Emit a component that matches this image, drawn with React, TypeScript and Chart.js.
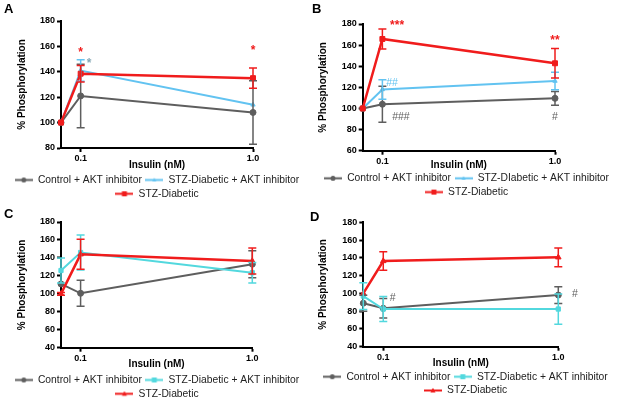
import React, { useEffect, useRef } from 'react';
import { Chart, registerables } from 'chart.js';

Chart.register(...registerables);

const FONT = '"Liberation Sans", Arial, Helvetica, sans-serif';

// ---------- data ----------
const insulinDoses = [0, 0.1, 1.0]; // nM ; 0 is plotted at the start of the log axis
const X_AXIS_START = 0.0769;
const X_AXIS_END = 1.0;
const xTickValues = [0.1, 1.0];
const xTickLabels = ['0.1', '1.0'];

const namesAB = ['Control + AKT inhibitor', 'STZ-Diabetic + AKT inhibitor', 'STZ-Diabetic'];
const namesB = ['Control + AKT inhibitor', 'STZ-DIabetic + AKT inhibitor', 'STZ-Diabetic'];

// Panel A
const aControl = [100, 121, 108];
const aControlErr = [0, 25, 25];
const aStzAkt = [100, 141, 114];
const aStzAktErr = [0, 8.5, 0];
const aStz = [100, 138.5, 135];
const aStzErr = [0, 6.5, 8];

// Panel B
const bControl = [100, 104, 109.6];
const bControlErr = [0, 17, 6.5];
const bStzAkt = [100, 118, 126];
const bStzAktErr = [0, 9.3, 8.3];
const bStz = [100, 165.8, 142.8];
const bStzErr = [0, 9.5, 14];

// Panel C
const cControl = [111, 100.6, 133];
const cControlErr = [0, 14.5, 15];
const cStzAkt = [126, 146, 123.5];
const cStzAktErr = [14, 19.5, 11.5];
const cStz = [100, 144, 136.5];
const cStzErr = [1.5, 16.7, 14.5];

// Panel D
const dControl = [89, 83.2, 98.1];
const dControlErr = [9, 11, 9.5];
const dStzAkt = [97, 82.4, 82.4];
const dStzAktErr = [15, 14, 17];
const dStz = [100, 136.4, 140.6];
const dStzErr = [0, 10.5, 10.5];

// significance marks: text, insulin x, % y, series index (colour)
const aMarks = [
  { text: '*', x: 0.1, y: 155, s: 2 },
  { text: '*', x: 1.0, y: 157, s: 2 },
  { text: '*', x: 0.112, y: 146, s: 3 },
];
const bMarks = [
  { text: '***', x: 0.1217, y: 178, s: 2 },
  { text: '**', x: 1.0, y: 164, s: 2 },
  { text: '##', x: 0.1138, y: 124, s: 1 },
  { text: '###', x: 0.128, y: 92, s: 0 },
  { text: '#', x: 1.0, y: 92, s: 0 },
];
const cMarks: any[] = [];
const dMarks = [
  { text: '#', x: 0.1132, y: 94.4, s: 0 },
  { text: '#', x: 1.245, y: 99, s: 0 },
];

// ---------- styles ----------
const GRAY = '#5e5e5e';
const SKY = '#62c3f1';
const CYAN = '#52d8de';
const RED = '#f01c1c';
const STAR_GRAYBLUE = '#86a9b6';

function makeIcon(color: string, style: string, r: number) {
  const c = document.createElement('canvas');
  c.width = 18;
  c.height = 9;
  const g = c.getContext('2d')!;
  g.strokeStyle = color;
  g.fillStyle = color;
  g.lineWidth = 2;
  g.beginPath();
  g.moveTo(0, 4.5);
  g.lineTo(18, 4.5);
  g.stroke();
  g.beginPath();
  if (style === 'circle') {
    g.arc(9, 4.5, r, 0, Math.PI * 2);
  } else if (style === 'rect') {
    g.rect(9 - r, 4.5 - r, 2 * r, 2 * r);
  } else {
    g.moveTo(9, 4.5 - r * 1.1);
    g.lineTo(9 + r, 4.5 + r * 0.8);
    g.lineTo(9 - r, 4.5 + r * 0.8);
    g.closePath();
  }
  g.fill();
  return c;
}

const errorBarPlugin = {
  id: 'errorBars',
  afterDatasetsDraw(chart: any) {
    const { ctx } = chart;
    const yScale = chart.scales.y;
    chart.data.datasets.forEach((ds: any, di: number) => {
      const errs = ds.errorBars;
      if (!errs) return;
      const meta = chart.getDatasetMeta(di);
      ctx.save();
      ctx.strokeStyle = ds.borderColor;
      ctx.lineWidth = 1.5;
      meta.data.forEach((pt: any, i: number) => {
        const e = errs[i];
        if (!e) return;
        const v = ds.data[i].y;
        const yt = yScale.getPixelForValue(v + e);
        const yb = yScale.getPixelForValue(v - e);
        ctx.beginPath();
        ctx.moveTo(pt.x, yt);
        ctx.lineTo(pt.x, yb);
        ctx.moveTo(pt.x - 4, yt);
        ctx.lineTo(pt.x + 4, yt);
        ctx.moveTo(pt.x - 4, yb);
        ctx.lineTo(pt.x + 4, yb);
        ctx.stroke();
      });
      ctx.restore();
    });
  },
};

const marksPlugin = {
  id: 'sigMarks',
  afterDraw(chart: any) {
    const marks = chart.options.plugins.sigMarks?.marks || [];
    const colors = chart.options.plugins.sigMarks?.colors || [];
    const { ctx } = chart;
    ctx.save();
    ctx.textAlign = 'center';
    ctx.textBaseline = 'middle';
    marks.forEach((m: any) => {
      const px = chart.scales.x.getPixelForValue(m.x);
      const py = chart.scales.y.getPixelForValue(m.y);
      ctx.fillStyle = colors[m.s];
      ctx.font = m.text.includes('*') ? `bold 12px ${FONT}` : `10.5px ${FONT}`;
      ctx.fillText(m.text, px, py);
    });
    ctx.restore();
  },
};

type Cfg = {
  left: number; top: number; W: number; H: number;
  letter: string;
  padLeft: number; yw: number; rightW: number;
  letterPadTop: number; letterPadBottom: number;
  xh: number; xTitlePad: number; yTitlePad: number; padBottom: number;
  yMin: number; yMax: number;
  names: string[];
  series: number[][]; errs: number[][];
  colors: string[]; styles: string[]; radii: number[]; widths: number[];
  marks: any[];
};

const panels: Cfg[] = [
  {
    left: 0, top: 0, W: 310, H: 210, letter: 'A',
    padLeft: 4, yw: 57, rightW: 57,
    letterPadTop: 1.2, letterPadBottom: 4.2,
    xh: 23.35, xTitlePad: 0.3, yTitlePad: 12.5, padBottom: 1.05,
    yMin: 80, yMax: 180,
    names: namesAB,
    series: [aControl, aStzAkt, aStz], errs: [aControlErr, aStzAktErr, aStzErr],
    colors: [GRAY, SKY, RED], styles: ['circle', 'triangle', 'rect'], radii: [3, 2.5, 3.5], widths: [2, 2, 2.5],
    marks: aMarks,
  },
  {
    left: 310, top: 0, W: 311, H: 210, letter: 'B',
    padLeft: 2, yw: 50.7, rightW: 66,
    letterPadTop: 1.2, letterPadBottom: 7.2,
    xh: 18.95, xTitlePad: -2.05, yTitlePad: 5, padBottom: 2.75,
    yMin: 60, yMax: 180,
    names: namesB,
    series: [bControl, bStzAkt, bStz], errs: [bControlErr, bStzAktErr, bStzErr],
    colors: [GRAY, SKY, RED], styles: ['circle', 'triangle', 'rect'], radii: [3, 2.5, 3.5], widths: [2, 2, 2.5],
    marks: bMarks,
  },
  {
    left: 0, top: 200, W: 310, H: 210, letter: 'C',
    padLeft: 4, yw: 57, rightW: 57.7,
    letterPadTop: 6.2, letterPadBottom: 0.2,
    xh: 23.65, xTitlePad: 1.15, yTitlePad: 12.2, padBottom: 1.05,
    yMin: 40, yMax: 180,
    names: namesAB,
    series: [cControl, cStzAkt, cStz], errs: [cControlErr, cStzAktErr, cStzErr],
    colors: [GRAY, CYAN, RED], styles: ['circle', 'rect', 'triangle'], radii: [3, 3, 3.2], widths: [2, 2, 2.5],
    marks: cMarks,
  },
  {
    left: 310, top: 200, W: 311, H: 210, letter: 'D',
    padLeft: 0, yw: 53.3, rightW: 62.7,
    letterPadTop: 9.2, letterPadBottom: -2.5,
    xh: 21.35, xTitlePad: -1.25, yTitlePad: 7.7, padBottom: 4.35,
    yMin: 40, yMax: 180,
    names: namesAB,
    series: [dControl, dStzAkt, dStz], errs: [dControlErr, dStzAktErr, dStzErr],
    colors: [GRAY, CYAN, RED], styles: ['circle', 'rect', 'triangle'], radii: [3, 3, 3.2], widths: [2, 2, 2.5],
    marks: dMarks,
  },
];

function Panel({ cfg }: { cfg: Cfg }) {
  const ref = useRef<HTMLCanvasElement | null>(null);
  useEffect(() => {
    if (!ref.current) return;
    const drawOrder = [2, 1, 0];
    const datasets = cfg.series.map((vals, si) => ({
      label: cfg.names[si],
      data: insulinDoses.map((d, i) => ({ x: d === 0 ? X_AXIS_START : d, y: vals[i] })),
      errorBars: cfg.errs[si],
      borderColor: cfg.colors[si],
      backgroundColor: cfg.colors[si],
      borderWidth: cfg.widths[si],
      pointStyle: cfg.styles[si],
      pointRadius: cfg.radii[si],
      pointBorderWidth: 1,
      pointBackgroundColor: cfg.colors[si],
      pointBorderColor: cfg.colors[si],
      tension: 0,
      clip: false,
      order: drawOrder[si],
    }));
    const icons = cfg.series.map((_, si) => makeIcon(cfg.colors[si], cfg.styles[si], si === 1 && cfg.styles[si] === 'triangle' ? 2 : 2.5));
    const markColors = [cfg.colors[0], cfg.colors[1], cfg.colors[2], STAR_GRAYBLUE];
    const chart = new Chart(ref.current, {
      type: 'line',
      data: { datasets } as any,
      plugins: [errorBarPlugin, marksPlugin],
      options: {
        animation: false,
        responsive: false,
        devicePixelRatio: 1,
        layout: { padding: { left: cfg.padLeft, right: 0, top: 0, bottom: cfg.padBottom } },
        plugins: {
          tooltip: { enabled: false },
          title: {
            display: true,
            text: cfg.letter,
            align: 'start',
            color: '#000',
            font: { family: FONT, size: 13, weight: 'bold', lineHeight: 1.2 },
            padding: { top: cfg.letterPadTop, bottom: cfg.letterPadBottom },
          },
          legend: {
            position: 'bottom',
            labels: {
              usePointStyle: true,
              pointStyleWidth: 18,
              padding: 3.5,
              color: '#222',
              font: { family: FONT, size: 10.3 },
              generateLabels: (ch: any) =>
                ch.data.datasets.map((ds: any, i: number) => ({
                  text: ds.label,
                  pointStyle: icons[i],
                  fillStyle: ds.borderColor,
                  strokeStyle: ds.borderColor,
                  lineWidth: 0,
                  fontColor: '#222',
                  hidden: false,
                  datasetIndex: i,
                })),
            },
          },
          sigMarks: { marks: cfg.marks, colors: markColors },
        } as any,
        scales: {
          x: {
            type: 'logarithmic',
            min: X_AXIS_START,
            max: X_AXIS_END,
            afterBuildTicks: (s: any) => {
              s.ticks = xTickValues.map((v) => ({ value: v }));
            },
            afterFit: (s: any) => {
              s.height = cfg.xh;
            },
            grid: { display: true, drawOnChartArea: false, drawTicks: true, tickLength: 4, tickWidth: 2, tickColor: '#000' },
            border: { display: true, color: '#000', width: 2 },
            ticks: {
              color: '#000',
              font: { family: FONT, size: 9, weight: 'bold' },
              padding: 1.3,
              maxRotation: 0,
              autoSkip: false,
              callback: (_v: any, i: number) => xTickLabels[i],
            },
            title: {
              display: true,
              text: 'Insulin (nM)',
              color: '#000',
              font: { family: FONT, size: 10, weight: 'bold', lineHeight: 1.2 },
              padding: { top: 0, bottom: cfg.xTitlePad },
            },
          },
          y: {
            type: 'linear',
            position: 'left',
            min: cfg.yMin,
            max: cfg.yMax,
            afterFit: (s: any) => {
              s.width = cfg.yw;
            },
            grid: { display: true, drawOnChartArea: false, drawTicks: true, tickLength: 4, tickWidth: 2, tickColor: '#000' },
            border: { display: true, color: '#000', width: 2 },
            ticks: {
              stepSize: 20,
              color: '#000',
              font: { family: FONT, size: 9, weight: 'bold' },
              padding: 2,
            },
            title: {
              display: true,
              text: '% Phosphorylation',
              color: '#000',
              font: { family: FONT, size: 10, weight: 'bold', lineHeight: 1.2 },
              padding: { top: cfg.yTitlePad, bottom: 0 },
            },
          },
          yR: {
            type: 'linear',
            position: 'right',
            display: true,
            min: 0,
            max: 1,
            afterFit: (s: any) => {
              s.width = cfg.rightW;
            },
            ticks: { display: false },
            grid: { display: false },
            border: { display: false },
          },
        } as any,
      } as any,
    });
    return () => chart.destroy();
  }, [cfg]);
  return (
    <div style={{ position: 'absolute', left: cfg.left, top: cfg.top, width: cfg.W, height: cfg.H }}>
      <canvas ref={ref} width={cfg.W} height={cfg.H} style={{ width: cfg.W, height: cfg.H, display: 'block' }} />
    </div>
  );
}

export default function App() {
  return (
    <div
      style={{
        position: 'absolute',
        left: 0,
        top: 0,
        width: 621,
        height: 405,
        overflow: 'hidden',
        background: '#fff',
      }}
    >
      {panels.map((p) => (
        <Panel key={p.letter} cfg={p} />
      ))}
    </div>
  );
}
